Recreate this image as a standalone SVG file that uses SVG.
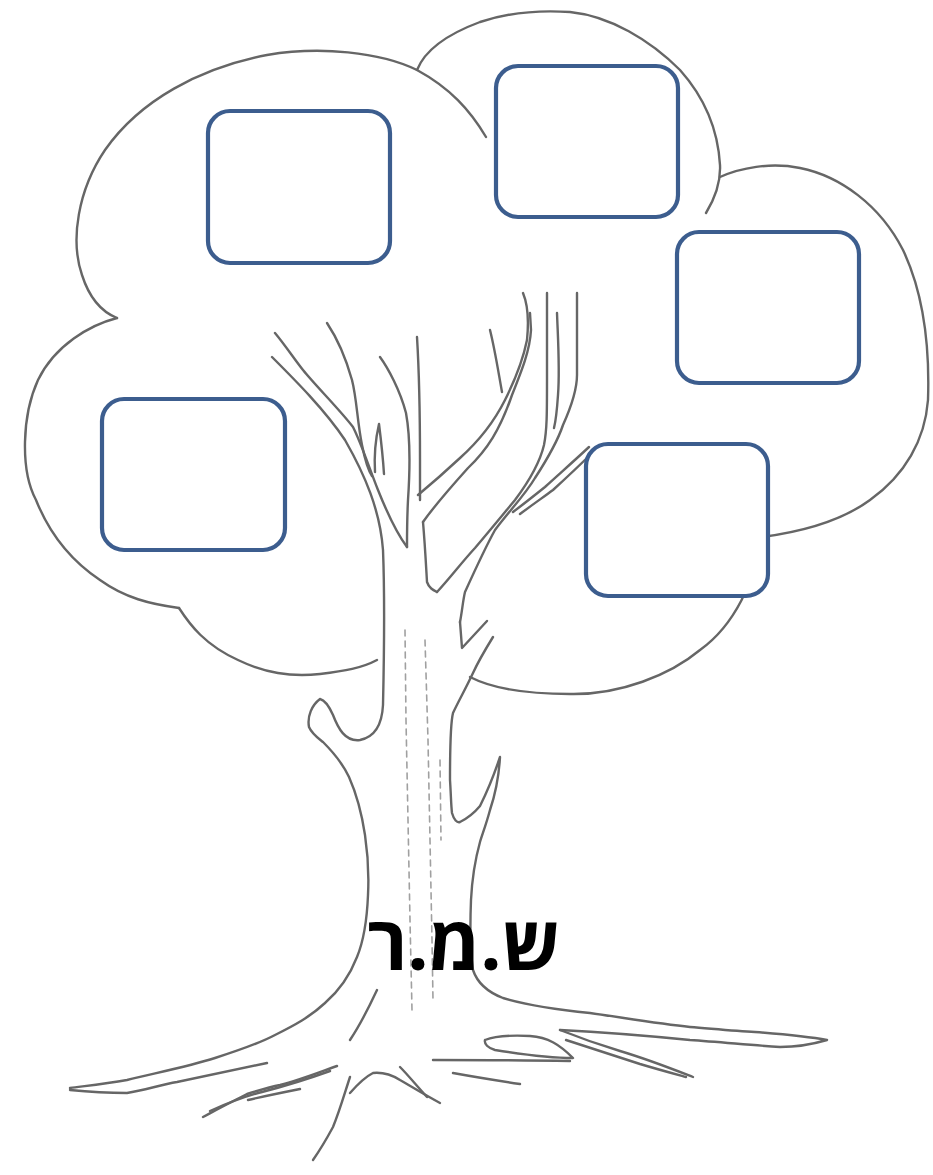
<svg xmlns="http://www.w3.org/2000/svg" width="933" height="1175" viewBox="0 0 933 1175">
<style>
.ln{fill:none;stroke:#666666;stroke-width:2.4;stroke-linecap:round;stroke-linejoin:round}
.lt{fill:none;stroke:#a0a0a0;stroke-width:1.6;stroke-linecap:round;stroke-dasharray:6 5}
.box{fill:#ffffff;stroke:#3c5d8e;stroke-width:4.2}
.lbl{font-family:"Open Sans","DejaVu Sans",sans-serif;font-weight:bold;font-size:75px;fill:#000000}
</style>
<rect width="933" height="1175" fill="#ffffff"/>
<g id="tree">
  <g id="crown">
    <path class="ln" d="M486,137 C470,110 450,88 417,70 C380,52 320,46 267,55 C200,68 140,100 105,150 C78,190 70,240 82,275 C90,300 102,312 117,318"/>
    <path class="ln" d="M117,318 C90,325 55,345 38,380 C22,415 20,470 36,500 C50,535 70,560 100,580 C125,598 150,604 179,608"/>
    <path class="ln" d="M179,608 C190,625 205,645 238,660 C265,673 290,677 320,674 C345,671 362,668 377,660"/>
    <path class="ln" d="M417,70 C425,50 445,35 480,22 C510,12 540,10 570,12 C610,16 650,40 680,70 C705,98 718,130 720,165 C721,185 714,200 706,213"/>
    <path class="ln" d="M720,177 C740,168 770,162 800,168 C840,176 880,205 903,250 C922,290 930,340 928,400 C925,440 905,475 870,500 C840,522 800,532 762,537"/>
    <path class="ln" d="M762,537 C755,580 735,625 700,650 C670,675 620,695 570,694 C530,694 495,690 470,677"/>
  </g>
  <g id="branches">
    <path class="ln" d="M275,333 C285,345 295,360 303,370 C315,385 340,410 353,427 C362,445 368,465 378,490 C388,515 398,535 407,547"/>
    <path class="ln" d="M327,323 C335,335 345,355 352,380 C357,400 357,420 362,445 C365,460 368,470 372,476"/>
    <path class="ln" d="M375,472 C374,455 376,437 379,424 C381,440 383,458 384,474"/>
    <path class="ln" d="M380,357 C388,368 400,390 406,413 C411,440 410,470 408,500 C407,520 407,535 407,547"/>
    <path class="ln" d="M417,337 C419,370 420,420 420,460 L420,500"/>
    <path class="ln" d="M418,495 C430,485 445,472 460,458 C480,440 495,420 505,400 C515,380 523,360 527,340 C529,320 528,305 523,293"/>
    <path class="ln" d="M423,522 C435,505 450,488 468,468 C487,450 500,430 512,395 C522,370 530,350 531,330 L530,313"/>
    <path class="ln" d="M490,330 C495,350 498,370 502,392"/>
    <path class="ln" d="M423,522 C425,545 426,565 427,582 C429,588 433,590 437,592"/>
    <path class="ln" d="M437,592 C450,578 462,562 475,548 C492,528 505,512 515,500 C530,480 540,462 544,445 C547,430 547,413 547,380 L547,293"/>
    <path class="ln" d="M557,313 C558,340 560,370 558,395 C557,410 556,420 554,428"/>
    <path class="ln" d="M460,622 C462,612 463,600 465,592 C475,570 485,548 495,530 C510,510 525,495 535,478 C548,458 558,440 563,425 C572,405 577,390 577,375 L577,293"/>
    <path class="ln" d="M513,512 C525,503 535,495 545,487 C558,475 573,462 589,447"/>
    <path class="ln" d="M520,514 C532,505 545,496 553,490 C565,479 578,467 591,454"/>
  </g>
  <g id="trunk">
    <path class="ln" d="M272,357 C295,380 325,410 345,440 C365,475 380,510 383,550 C385,600 384,660 383,705 C382,725 375,737 360,740 C345,742 338,728 333,715 C329,706 324,700 320,699 C312,705 307,716 309,727 C312,734 318,738 323,742 C333,752 342,762 349,777 C357,795 362,815 365,835 C368,855 369,875 368,895 C367,920 364,940 357,957 C350,975 340,990 325,1003 C310,1017 295,1025 275,1035 C260,1043 240,1050 215,1058 C190,1066 160,1072 127,1080 C105,1084 85,1086 70,1088"/>
    <path class="ln" d="M70,1090 C90,1092 110,1093 127,1093 C145,1090 160,1085 177,1082 C205,1076 235,1070 267,1063"/>
    <path class="ln" d="M460,622 L462,648 L487,621"/>
    <path class="ln" d="M493,637 C485,650 478,662 473,673 C465,690 458,702 453,713 C450,725 450,750 450,780 C451,795 451,805 452,813 C454,820 457,823 460,822 C468,818 475,812 480,806 C488,790 495,772 500,757 C499,775 495,795 490,810 C486,825 482,835 480,842 C475,860 472,880 471,900 C470,925 470,950 473,970 C478,985 490,993 503,998 C530,1006 560,1010 590,1013 C625,1018 660,1024 690,1027 C715,1029 735,1031 755,1032 C780,1034 805,1036 827,1040 C810,1045 795,1047 780,1047 C750,1045 720,1042 690,1040 C650,1036 600,1032 560,1030"/>
    <path class="ln" d="M560,1030 C580,1038 600,1045 620,1051 C650,1060 675,1070 693,1077"/>
    <path class="ln" d="M566,1040 C590,1048 615,1056 640,1064 C660,1070 675,1074 686,1077"/>
    <path class="ln" d="M485,1040 C495,1036 510,1035 530,1036 C548,1037 560,1045 573,1058 C550,1058 520,1054 495,1050 C488,1048 484,1044 485,1040"/>
    <path class="ln" d="M433,1060 C470,1060 520,1060 570,1061"/>
    <path class="ln" d="M453,1073 C475,1077 500,1081 520,1084"/>
    <path class="ln" d="M203,1117 C220,1108 235,1100 247,1094 C260,1090 270,1087 280,1085 C300,1080 320,1072 337,1066"/>
    <path class="ln" d="M210,1111 C228,1103 245,1096 262,1092 C285,1086 305,1080 330,1071"/>
    <path class="ln" d="M248,1100 C265,1096 285,1092 300,1089"/>
    <path class="ln" d="M377,990 C370,1005 362,1022 350,1040"/>
    <path class="ln" d="M350,1077 C345,1092 340,1110 333,1127 C326,1140 320,1150 313,1160"/>
    <path class="ln" d="M350,1093 C357,1085 365,1077 373,1073 C383,1072 392,1075 400,1080 C412,1087 425,1095 440,1103"/>
    <path class="ln" d="M400,1067 C408,1075 416,1085 427,1097"/>
    <path class="lt" d="M405,630 L406,720 L408,820 L410,920 L412,1010"/>
    <path class="lt" d="M425,640 L428,740 L430,840 L432,940 L433,1000"/>
    <path class="lt" d="M440,760 L441,840"/>
  </g>
</g>
<g id="box-top-left"><rect class="box" x="208" y="111" width="182" height="152" rx="22"/></g>
<g id="box-top-center"><rect class="box" x="496" y="66" width="182" height="151" rx="22"/></g>
<g id="box-right"><rect class="box" x="677" y="232" width="182" height="151" rx="22"/></g>
<g id="box-left"><rect class="box" x="102" y="399" width="183" height="151" rx="22"/></g>
<g id="box-bottom-right"><rect class="box" x="586" y="444" width="182" height="152" rx="22"/></g>
<g id="label"><text class="lbl" x="464" y="970" text-anchor="middle" direction="rtl">ש.מ.ר</text></g>
</svg>
